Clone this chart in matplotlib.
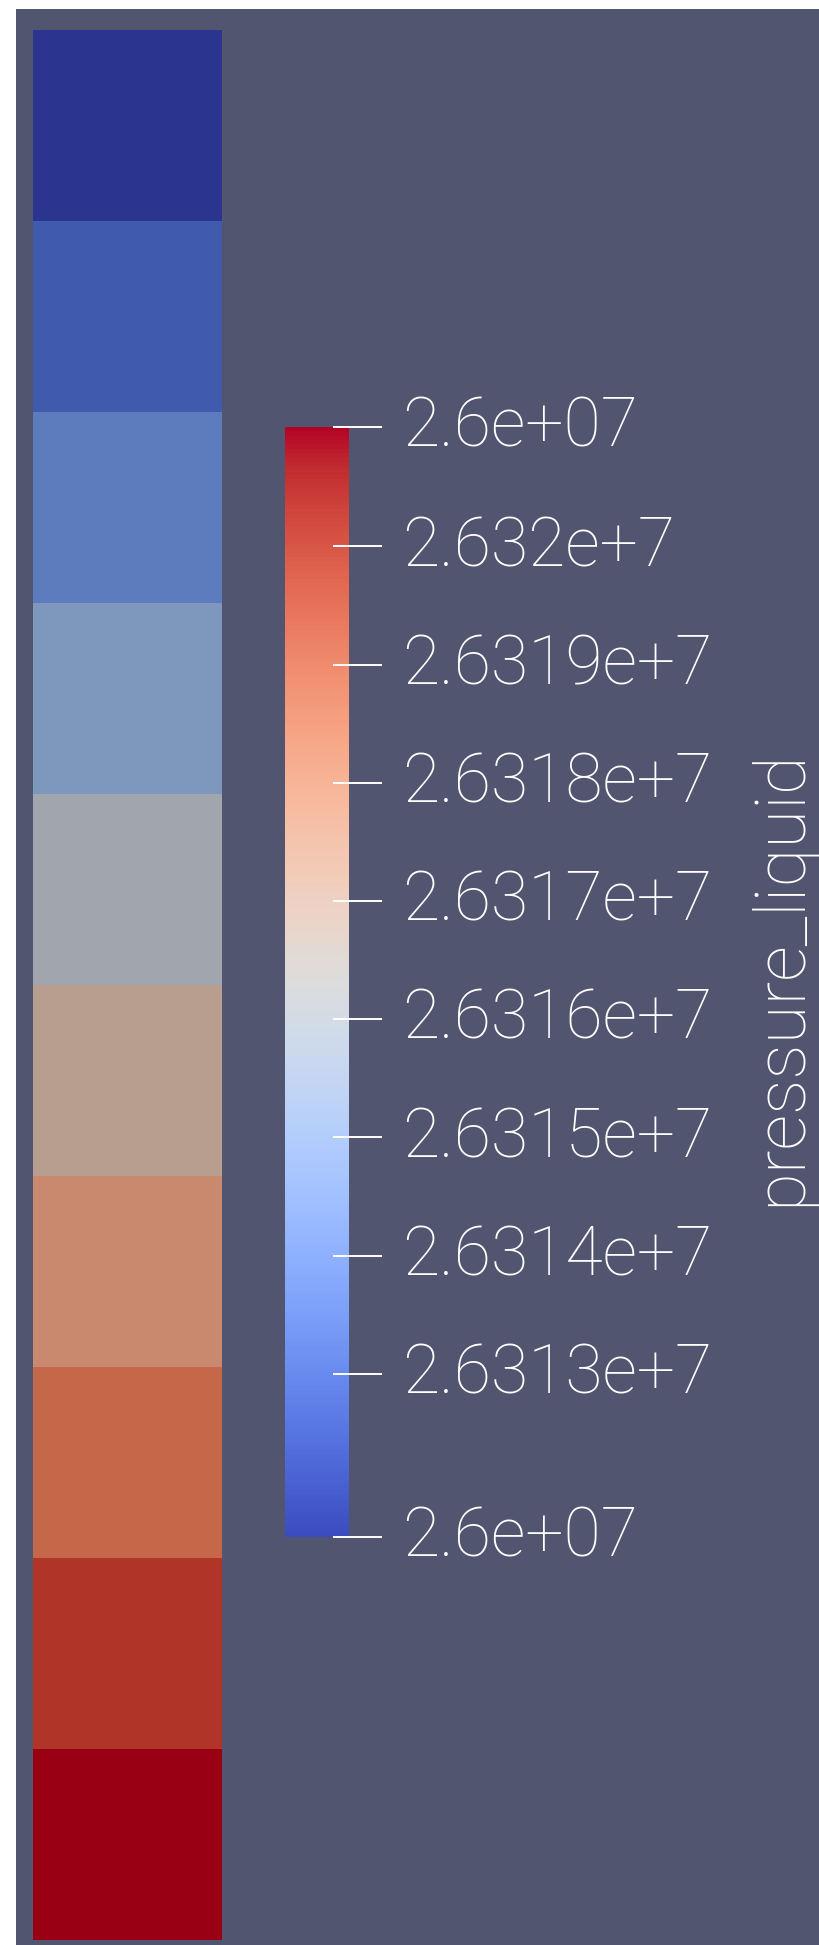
import numpy as np
import matplotlib
matplotlib.use("Agg")
import matplotlib.pyplot as plt
from matplotlib import colors as mcolors
from matplotlib import cm
from matplotlib.transforms import ScaledTranslation

# pressure of each cell, top to bottom
band_pressure = [26311620, 26312663, 26313707, 26314750, 26315793,
                 26316837, 26317880, 26318923, 26319967, 26321010]
p_min = 26311620
p_max = 26321010
tick_values = [p_min, 26313000, 26314000, 26315000, 26316000,
               26317000, 26318000, 26319000, 26320000, p_max]
tick_labels = ["2.6e+07", "2.6313e+7", "2.6314e+7", "2.6315e+7", "2.6316e+7",
               "2.6317e+7", "2.6318e+7", "2.6319e+7", "2.632e+7", "2.6e+07"]
bar_title = "pressure_liquid"

# shaded (lit) look of the cool-to-warm map on the surface
lit_colors = ["#2b3590", "#405aad", "#5e7dbd", "#7e97bc", "#a0a5ae",
              "#b89e8e", "#c8896e", "#c4694a", "#b03628", "#990014"]
bg = "#51556f"
W, H = 820, 1945
txt_font = "Roboto"

def px_axes(fig, x0, y0, w, h):
    # position given in image pixels, y from top
    return fig.add_axes([x0 / W, 1 - (y0 + h) / H, w / W, h / H])

fig = plt.figure(figsize=(W / 100, H / 100), dpi=100, facecolor="white")

back = px_axes(fig, 16, 9, W - 16, H - 9)
back.set_facecolor(bg)
back.set_xticks([])
back.set_yticks([])
for s in back.spines.values():
    s.set_visible(False)

norm = mcolors.Normalize(vmin=p_min, vmax=p_max)

# the column of cells
ax = px_axes(fig, 33, 30, 189, 1910)
surf_cmap = mcolors.LinearSegmentedColormap.from_list("lit", lit_colors)
grid = np.array(band_pressure).reshape(-1, 1)
ax.pcolormesh(grid, cmap=surf_cmap, norm=norm)
ax.set_ylim(len(band_pressure), 0)
ax.set_xlim(0, 1)
ax.axis("off")

# colour legend
cax = px_axes(fig, 285, 427, 64, 1110)
sm = cm.ScalarMappable(norm=norm, cmap="coolwarm")
cb = fig.colorbar(sm, cax=cax)
cb.outline.set_visible(False)
cb.set_ticks(tick_values)
cb.set_ticklabels(tick_labels)
cax.tick_params(length=0, pad=38, labelcolor="white", labelsize=49)
off = ScaledTranslation(0, 6 / 100, fig.dpi_scale_trans)
for lbl in cax.get_yticklabels():
    lbl.set_fontfamily(txt_font)
    lbl.set_fontweight("light")
    lbl.set_transform(lbl.get_transform() + off)
cax.hlines(tick_values, 0.75, 1.52, transform=cax.get_yaxis_transform(),
           color="white", lw=1.4, clip_on=False)

fig.text(781 / W, 1 - 978 / H, bar_title, rotation=90, ha="center", va="center",
         color="white", fontsize=51, family=txt_font, weight="light")

fig.savefig("out.png", dpi=100, facecolor="white")
